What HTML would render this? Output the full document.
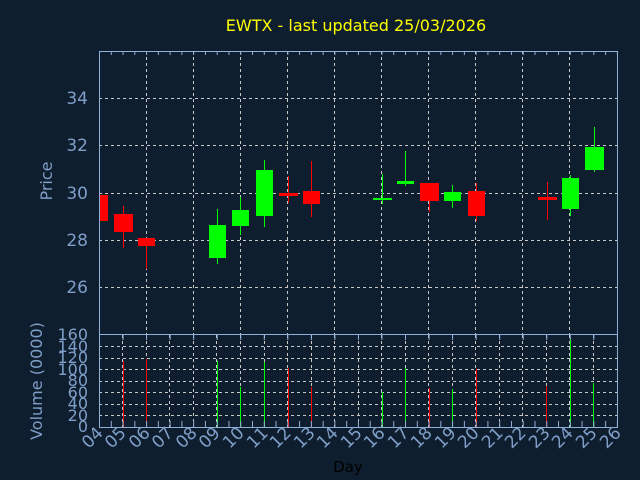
<!DOCTYPE html>
<html><head><meta charset="utf-8"><style>
html,body{margin:0;padding:0;background:#0f1e2e;}
svg{display:block;font-family:"DejaVu Sans","Liberation Sans",sans-serif;}
</style></head><body>
<svg width="640" height="480" viewBox="0 0 640 480" xmlns="http://www.w3.org/2000/svg">
<rect width="640" height="480" fill="#0f1e2e"/>
<text x="356" y="31" fill="#ffff00" font-size="16" text-anchor="middle">EWTX - last updated 25/03/2026</text>
<g stroke="#c8c8c8" stroke-width="1" stroke-dasharray="3 3">
<line x1="99" y1="98.5" x2="617" y2="98.5"/><line x1="99" y1="145.5" x2="617" y2="145.5"/>
<line x1="99" y1="193.5" x2="617" y2="193.5"/><line x1="99" y1="240.5" x2="617" y2="240.5"/>
<line x1="99" y1="287.5" x2="617" y2="287.5"/>
<line x1="146.5" y1="51" x2="146.5" y2="334"/><line x1="193.5" y1="51" x2="193.5" y2="334"/>
<line x1="240.5" y1="51" x2="240.5" y2="334"/><line x1="287.5" y1="51" x2="287.5" y2="334"/>
<line x1="334.5" y1="51" x2="334.5" y2="334"/><line x1="381.5" y1="51" x2="381.5" y2="334"/>
<line x1="428.5" y1="51" x2="428.5" y2="334"/><line x1="475.5" y1="51" x2="475.5" y2="334"/>
<line x1="522.5" y1="51" x2="522.5" y2="334"/><line x1="569.5" y1="51" x2="569.5" y2="334"/>
</g>
<g stroke="#c8c8c8" stroke-width="1" stroke-dasharray="3 3">
<line x1="99" y1="415.5" x2="617" y2="415.5"/><line x1="99" y1="404.5" x2="617" y2="404.5"/>
<line x1="99" y1="392.5" x2="617" y2="392.5"/><line x1="99" y1="381.5" x2="617" y2="381.5"/>
<line x1="99" y1="369.5" x2="617" y2="369.5"/><line x1="99" y1="358.5" x2="617" y2="358.5"/>
<line x1="99" y1="346.5" x2="617" y2="346.5"/>
</g>
<g stroke="#c8c8c8" stroke-width="1" stroke-dasharray="3 3">
<line x1="122.5" y1="335" x2="122.5" y2="427"/><line x1="146.5" y1="335" x2="146.5" y2="427"/>
<line x1="169.5" y1="335" x2="169.5" y2="427"/><line x1="193.5" y1="335" x2="193.5" y2="427"/>
<line x1="216.5" y1="335" x2="216.5" y2="427"/><line x1="240.5" y1="335" x2="240.5" y2="427"/>
<line x1="264.5" y1="335" x2="264.5" y2="427"/><line x1="287.5" y1="335" x2="287.5" y2="427"/>
<line x1="311.5" y1="335" x2="311.5" y2="427"/><line x1="334.5" y1="335" x2="334.5" y2="427"/>
<line x1="358.5" y1="335" x2="358.5" y2="427"/><line x1="381.5" y1="335" x2="381.5" y2="427"/>
<line x1="405.5" y1="335" x2="405.5" y2="427"/><line x1="428.5" y1="335" x2="428.5" y2="427"/>
<line x1="452.5" y1="335" x2="452.5" y2="427"/><line x1="475.5" y1="335" x2="475.5" y2="427"/>
<line x1="499.5" y1="335" x2="499.5" y2="427"/><line x1="522.5" y1="335" x2="522.5" y2="427"/>
<line x1="546.5" y1="335" x2="546.5" y2="427"/><line x1="569.5" y1="335" x2="569.5" y2="427"/>
<line x1="593.5" y1="335" x2="593.5" y2="427"/>
</g>
<g fill="#ff0000" stroke="#ff0000">
<rect x="99" y="195" width="9" height="26" stroke="none"/>
<line x1="123.5" y1="206" x2="123.5" y2="248"/><rect x="114" y="214" width="19" height="18" stroke="none"/>
<line x1="146.5" y1="238" x2="146.5" y2="269"/><rect x="138" y="238" width="17" height="8" stroke="none"/>
<line x1="288.5" y1="176" x2="288.5" y2="203"/><rect x="279" y="193" width="19" height="3" stroke="none"/>
<line x1="311.5" y1="161" x2="311.5" y2="217"/><rect x="303" y="191" width="17" height="13" stroke="none"/>
<line x1="429.5" y1="183" x2="429.5" y2="212"/><rect x="420" y="183" width="19" height="18" stroke="none"/>
<line x1="476.5" y1="183" x2="476.5" y2="221"/><rect x="468" y="191" width="17" height="25" stroke="none"/>
<line x1="547.5" y1="182" x2="547.5" y2="220"/><rect x="538" y="197" width="19" height="3" stroke="none"/>
</g>
<g fill="#00ff00" stroke="#00ff00">
<line x1="217.5" y1="209" x2="217.5" y2="264"/><rect x="209" y="225" width="17" height="33" stroke="none"/>
<line x1="240.5" y1="197" x2="240.5" y2="235"/><rect x="232" y="210" width="17" height="16" stroke="none"/>
<line x1="264.5" y1="160" x2="264.5" y2="227"/><rect x="256" y="170" width="17" height="46" stroke="none"/>
<line x1="382.5" y1="174" x2="382.5" y2="204"/><rect x="373" y="198" width="19" height="2" stroke="none"/>
<line x1="405.5" y1="151" x2="405.5" y2="186"/><rect x="397" y="181" width="17" height="3" stroke="none"/>
<line x1="452.5" y1="185" x2="452.5" y2="208"/><rect x="444" y="192" width="17" height="9" stroke="none"/>
<line x1="570.5" y1="175" x2="570.5" y2="216"/><rect x="562" y="178" width="17" height="31" stroke="none"/>
<line x1="594.5" y1="127" x2="594.5" y2="172"/><rect x="585" y="147" width="19" height="23" stroke="none"/>
</g>
<g stroke-width="1">
<line x1="123.5" y1="427" x2="123.5" y2="361" stroke="#ff0000"/>
<line x1="146.5" y1="427" x2="146.5" y2="359" stroke="#ff0000"/>
<line x1="217.5" y1="427" x2="217.5" y2="361" stroke="#00ff00"/>
<line x1="240.5" y1="427" x2="240.5" y2="387" stroke="#00ff00"/>
<line x1="264.5" y1="427" x2="264.5" y2="362" stroke="#00ff00"/>
<line x1="288.5" y1="427" x2="288.5" y2="368" stroke="#ff0000"/>
<line x1="311.5" y1="427" x2="311.5" y2="387" stroke="#ff0000"/>
<line x1="382.5" y1="427" x2="382.5" y2="392" stroke="#00ff00"/>
<line x1="405.5" y1="427" x2="405.5" y2="368" stroke="#00ff00"/>
<line x1="429.5" y1="427" x2="429.5" y2="388" stroke="#ff0000"/>
<line x1="452.5" y1="427" x2="452.5" y2="389" stroke="#00ff00"/>
<line x1="476.5" y1="427" x2="476.5" y2="369" stroke="#ff0000"/>
<line x1="546.5" y1="427" x2="546.5" y2="386" stroke="#ff0000"/>
<line x1="570.5" y1="427" x2="570.5" y2="338" stroke="#00ff00"/>
<line x1="593.5" y1="427" x2="593.5" y2="383" stroke="#00ff00"/>
</g>
<g stroke="#8fb0d8" stroke-width="1" fill="none">
<rect x="99.5" y="51.5" width="518" height="283"/>
<rect x="99.5" y="334.5" width="518" height="93"/>
<line x1="99" y1="53" x2="617" y2="53" stroke-width="4" stroke-dasharray="1 10.77"/>
<line x1="99" y1="424" x2="617" y2="424" stroke-width="6" stroke-dasharray="1 10.77"/>
<line x1="99" y1="337" x2="617" y2="337" stroke-width="6" stroke-dasharray="1 22.54" stroke-dashoffset="-23.54"/>
</g>
<g fill="#7f9fc8" font-size="17" text-anchor="end">
<text x="88" y="104">34</text><text x="88" y="151">32</text><text x="88" y="199">30</text>
<text x="88" y="246">28</text><text x="88" y="293">26</text>
</g>
<g fill="#7f9fc8" font-size="16" text-anchor="end">
<text x="88" y="432">0</text><text x="88" y="421">20</text><text x="88" y="409">40</text>
<text x="88" y="398">60</text><text x="88" y="386">80</text><text x="88" y="375">100</text>
<text x="88" y="363">120</text><text x="88" y="352">140</text><text x="88" y="340">160</text>
</g>
<text transform="translate(52,181) rotate(-90)" fill="#7f9fc8" font-size="16" text-anchor="middle">Price</text>
<text transform="translate(42,381) rotate(-90)" fill="#7f9fc8" font-size="16" text-anchor="middle">Volume (0000)</text>
<g fill="#7f9fc8" font-size="17" text-anchor="end">
<text transform="translate(104,434) rotate(-45)">04</text>
<text transform="translate(127,434) rotate(-45)">05</text>
<text transform="translate(151,434) rotate(-45)">06</text>
<text transform="translate(174,434) rotate(-45)">07</text>
<text transform="translate(198,434) rotate(-45)">08</text>
<text transform="translate(221,434) rotate(-45)">09</text>
<text transform="translate(245,434) rotate(-45)">10</text>
<text transform="translate(269,434) rotate(-45)">11</text>
<text transform="translate(292,434) rotate(-45)">12</text>
<text transform="translate(316,434) rotate(-45)">13</text>
<text transform="translate(339,434) rotate(-45)">14</text>
<text transform="translate(363,434) rotate(-45)">15</text>
<text transform="translate(386,434) rotate(-45)">16</text>
<text transform="translate(410,434) rotate(-45)">17</text>
<text transform="translate(433,434) rotate(-45)">18</text>
<text transform="translate(457,434) rotate(-45)">19</text>
<text transform="translate(480,434) rotate(-45)">20</text>
<text transform="translate(504,434) rotate(-45)">21</text>
<text transform="translate(527,434) rotate(-45)">22</text>
<text transform="translate(551,434) rotate(-45)">23</text>
<text transform="translate(574,434) rotate(-45)">24</text>
<text transform="translate(598,434) rotate(-45)">25</text>
<text transform="translate(622,434) rotate(-45)">26</text>
</g>
<text x="348" y="472" fill="#000000" font-size="15" text-anchor="middle">Day</text>
</svg>
</body></html>
